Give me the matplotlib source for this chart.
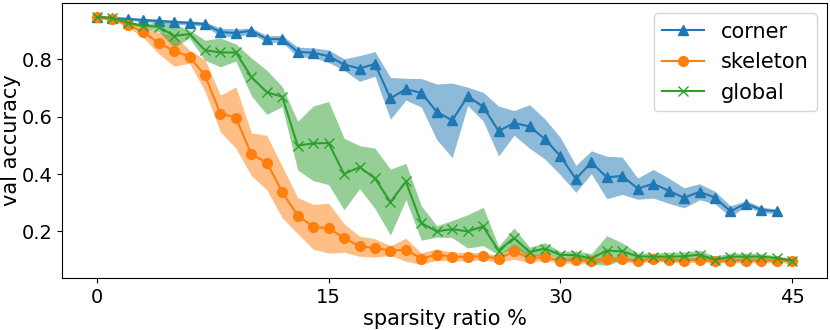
import matplotlib
matplotlib.use("Agg")
import matplotlib.pyplot as plt
import numpy as np

# sparsity ratio steps
sparsity = list(range(0, 46))

corner_mean = [0.948, 0.944, 0.941, 0.937, 0.934, 0.930, 0.927, 0.923, 0.895, 0.892,
               0.900, 0.871, 0.871, 0.826, 0.823, 0.811, 0.782, 0.768, 0.784, 0.664,
               0.696, 0.683, 0.617, 0.587, 0.671, 0.635, 0.550, 0.578, 0.566, 0.522,
               0.462, 0.383, 0.441, 0.388, 0.394, 0.349, 0.366, 0.342, 0.317, 0.338,
               0.318, 0.270, 0.297, 0.275, 0.270]
corner_std = [0.005, 0.005, 0.005, 0.006, 0.006, 0.007, 0.007, 0.008, 0.014, 0.014,
              0.010, 0.012, 0.012, 0.017, 0.017, 0.022, 0.020, 0.045, 0.043, 0.073,
              0.038, 0.050, 0.097, 0.130, 0.032, 0.050, 0.087, 0.043, 0.076, 0.070,
              0.065, 0.047, 0.040, 0.074, 0.065, 0.037, 0.050, 0.044, 0.035, 0.028,
              0.022, 0.019, 0.010, 0.010, 0.008]

skeleton_mean = [0.948, 0.940, 0.921, 0.896, 0.857, 0.830, 0.809, 0.744, 0.611, 0.597,
                 0.469, 0.440, 0.337, 0.255, 0.216, 0.211, 0.177, 0.148, 0.142, 0.133,
                 0.136, 0.105, 0.119, 0.112, 0.112, 0.113, 0.105, 0.130, 0.107, 0.110,
                 0.098, 0.100, 0.096, 0.105, 0.103, 0.096, 0.103, 0.100, 0.098, 0.101,
                 0.098, 0.098, 0.098, 0.098, 0.098, 0.098]
skeleton_std = [0.005, 0.005, 0.008, 0.020, 0.037, 0.054, 0.023, 0.055, 0.064, 0.107,
                0.075, 0.095, 0.090, 0.063, 0.078, 0.087, 0.050, 0.035, 0.032, 0.017,
                0.040, 0.020, 0.020, 0.015, 0.015, 0.012, 0.012, 0.028, 0.015, 0.010,
                0.010, 0.010, 0.008, 0.008, 0.008, 0.008, 0.008, 0.008, 0.008, 0.008,
                0.008, 0.008, 0.008, 0.008, 0.008, 0.008]

global_mean = [0.948, 0.944, 0.928, 0.917, 0.914, 0.882, 0.888, 0.832, 0.824, 0.824,
               0.739, 0.685, 0.670, 0.499, 0.507, 0.508, 0.400, 0.424, 0.385, 0.302,
               0.374, 0.229, 0.200, 0.208, 0.200, 0.217, 0.133, 0.177, 0.128, 0.140,
               0.118, 0.117, 0.105, 0.133, 0.130, 0.113, 0.112, 0.112, 0.113, 0.119,
               0.101, 0.112, 0.112, 0.112, 0.107, 0.098]
global_std = [0.004, 0.004, 0.005, 0.006, 0.017, 0.040, 0.014, 0.035, 0.050, 0.030,
              0.066, 0.077, 0.035, 0.085, 0.130, 0.145, 0.125, 0.075, 0.105, 0.115,
              0.063, 0.060, 0.020, 0.030, 0.058, 0.067, 0.015, 0.035, 0.017, 0.020,
              0.012, 0.015, 0.017, 0.052, 0.030, 0.012, 0.012, 0.015, 0.015, 0.015,
              0.012, 0.012, 0.012, 0.010, 0.008, 0.006]

fig = plt.figure(figsize=(8.3, 3.3), dpi=100)
ax = fig.add_axes([0.0747, 0.1576, 0.9217, 0.8334])

series = [
    ("corner", corner_mean, corner_std, "C0", "^"),
    ("skeleton", skeleton_mean, skeleton_std, "C1", "o"),
    ("global", global_mean, global_std, "C2", "x"),
]
for name, m, s, c, mk in series:
    x = np.array(sparsity[:len(m)])
    m = np.array(m)
    s = np.array(s)
    ax.plot(x, m, color=c, marker=mk, markersize=7, linewidth=1.5, label=name)
    ax.fill_between(x, m - s, m + s, color=c, alpha=0.5, linewidth=0)

ax.set_xticks([0, 15, 30, 45])
ax.set_yticks([0.2, 0.4, 0.6, 0.8])
ax.tick_params(labelsize=14)
ax.set_xlabel("sparsity ratio %", fontsize=15, labelpad=2)
ax.set_ylabel("val accuracy", fontsize=15)
ax.yaxis.set_label_coords(-0.053, 0.5)
ax.legend(loc="upper right", fontsize=15)

fig.savefig("out.png", dpi=100)
